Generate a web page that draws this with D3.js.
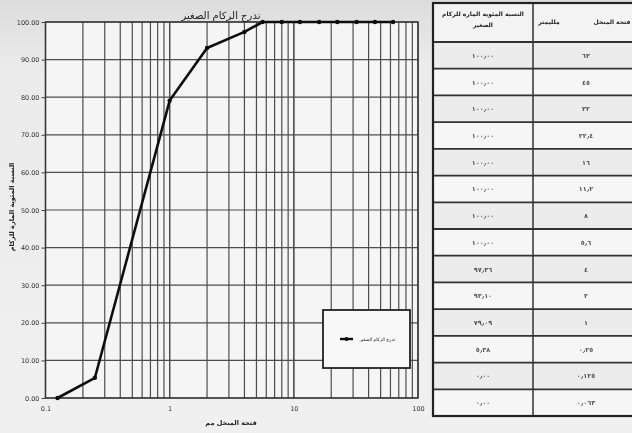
<!DOCTYPE html>
<head>
  <meta charset="utf-8">
  <title>تدرج الركام الصغير</title>
  <script src="https://d3js.org/d3.v7.min.js"></script>
</head>
<body style="margin:0;background:#e8e8e8">
  <script>
    var sieveSizes = [63, 45, 32, 22.4, 16, 11.2, 8, 5.6, 4, 2, 1, 0.25, 0.125, 0.063];
    var passing = [100, 100, 100, 100, 100, 100, 100, 100, 97.36, 93.10, 79.09, 5.38, 0, 0];
    var yTicks = [0, 10, 20, 30, 40, 50, 60, 70, 80, 90, 100];
    var xTicks = [0.1, 1, 10, 100];

    var title = 'تدرج الركام الصغير';
    var seriesName = 'تدرج الركام الصغير';
    var xTitle = 'فتحة المنخل مم';
    var yTitle = 'النسبة المئوية المارة للركام';
    var headPass = ['النسبة المئوية المارة للركام', 'الصغير'];
    var headSize = ['فتحة المنخل', 'ملليمتر'];

    var width = 632, height = 433;
    var font = 'DejaVu Sans';

    function arab(s) {
      return String(s).replace(/[0-9]/g, function(c) { return '٠١٢٣٤٥٦٧٨٩'[+c]; }).replace(/\./g, '٫');
    }

    var svg = d3.select('body').append('svg').attr('width', width).attr('height', height)
      .style('font-family', font).style('display', 'block');

    var defs = svg.append('defs');
    defs.append('filter').attr('id', 'soft')
      .append('feGaussianBlur').attr('stdDeviation', 0.45);
    var grad = defs.append('linearGradient').attr('id', 'bg').attr('x1', 0).attr('y1', 0).attr('x2', 0).attr('y2', 1);
    grad.append('stop').attr('offset', 0).attr('stop-color', '#dcdcdc');
    grad.append('stop').attr('offset', 0.15).attr('stop-color', '#ebebeb');
    grad.append('stop').attr('offset', 1).attr('stop-color', '#f0f0f0');

    var root = svg.append('g').attr('filter', 'url(#soft)');
    root.append('rect').attr('width', width).attr('height', height).attr('fill', 'url(#bg)');

    var pLeft = 45.5, pRight = 418, pTop = 22, pBottom = 398;

    var x = d3.scaleLog().domain([0.1, 100]).range([pLeft, pRight]);
    var y = d3.scaleLinear().domain([0, 100]).range([pBottom, pTop]);

    root.append('rect').attr('x', pLeft).attr('y', pTop).attr('width', pRight - pLeft).attr('height', pBottom - pTop)
      .attr('fill', '#f5f5f5');

    // grid
    var minor = [];
    [0.1, 1, 10].forEach(function(d) {
      for (var k = 1; k <= 10; k++) minor.push(d * k);
    });
    root.append('g').selectAll('line').data(minor).enter().append('line')
      .attr('x1', function(d) { return x(d); }).attr('x2', function(d) { return x(d); })
      .attr('y1', pTop).attr('y2', pBottom)
      .attr('stroke', '#4d4d4d').attr('stroke-width', 1.2);
    root.append('g').selectAll('line').data(yTicks).enter().append('line')
      .attr('x1', pLeft).attr('x2', pRight)
      .attr('y1', function(d) { return y(d); }).attr('y2', function(d) { return y(d); })
      .attr('stroke', '#4d4d4d').attr('stroke-width', 1.2);

    root.append('rect').attr('x', pLeft).attr('y', pTop).attr('width', pRight - pLeft).attr('height', pBottom - pTop)
      .attr('fill', 'none').attr('stroke', '#333').attr('stroke-width', 1.4);

    // axes
    var axisY = d3.axisLeft(y).tickValues(yTicks).tickFormat(d3.format('.2f')).tickSize(4).tickPadding(2);
    var gy = root.append('g').attr('transform', 'translate(' + pLeft + ',0)').call(axisY);
    var axisX = d3.axisBottom(x).tickValues(xTicks).tickFormat(function(d) { return d; }).tickSize(0).tickPadding(8);
    var gx = root.append('g').attr('transform', 'translate(0,' + pBottom + ')').call(axisX);
    [gx, gy].forEach(function(g) {
      g.select('.domain').remove();
      g.selectAll('line').attr('stroke', '#444');
      g.selectAll('text').attr('font-family', font).attr('font-size', 6.5).attr('fill', '#333');
    });

    // series
    var pts = sieveSizes.map(function(d, i) { return { s: d, p: passing[i] }; })
      .filter(function(d) { return d.s >= 0.1; })
      .sort(function(a, b) { return a.s - b.s; });

    var line = d3.line().x(function(d) { return x(d.s); }).y(function(d) { return y(d.p); });
    root.append('path').datum(pts).attr('d', line)
      .attr('fill', 'none').attr('stroke', '#111').attr('stroke-width', 2.6).attr('stroke-linejoin', 'round');
    root.append('g').selectAll('circle').data(pts).enter().append('circle')
      .attr('cx', function(d) { return x(d.s); }).attr('cy', function(d) { return y(d.p); })
      .attr('r', 2.2).attr('fill', '#111');

    // titles
    root.append('text').attr('x', 221).attr('y', 19).attr('text-anchor', 'middle')
      .attr('font-size', 10).attr('fill', '#222').text(title);
    root.append('text').attr('x', 231).attr('y', 425).attr('text-anchor', 'middle')
      .attr('font-size', 6.5).attr('font-weight', 'bold').attr('fill', '#222').text(xTitle);
    root.append('text').attr('transform', 'translate(14,207) rotate(-90)').attr('text-anchor', 'middle')
      .attr('font-size', 6.5).attr('font-weight', 'bold').attr('fill', '#222').text(yTitle);

    // legend
    var lg = root.append('g').attr('transform', 'translate(323,310)');
    lg.append('rect').attr('width', 87).attr('height', 58).attr('fill', '#f8f8f8')
      .attr('stroke', '#222').attr('stroke-width', 1.8);
    lg.append('line').attr('x1', 17).attr('x2', 30).attr('y1', 29).attr('y2', 29)
      .attr('stroke', '#111').attr('stroke-width', 2.4);
    lg.append('circle').attr('cx', 23.5).attr('cy', 29).attr('r', 2).attr('fill', '#111');
    lg.append('text').attr('x', 72).attr('y', 31).attr('text-anchor', 'end')
      .attr('font-size', 4.5).attr('fill', '#222').text(seriesName);

    // table
    var tLeft = 433, tMid = 533, tRight = 640, tTop = 3, headBottom = 42, tBottom = 416;
    var rows = d3.scaleBand().domain(d3.range(sieveSizes.length)).range([headBottom, tBottom]);
    var tg = root.append('g');
    tg.selectAll('rect.row').data(sieveSizes).enter().append('rect').attr('class', 'row')
      .attr('x', tLeft).attr('width', tRight - tLeft)
      .attr('y', function(d, i) { return rows(i); }).attr('height', rows.bandwidth())
      .attr('fill', function(d, i) { return i % 2 ? '#f6f6f6' : '#ececec'; });
    tg.append('rect').attr('x', tLeft).attr('y', tTop).attr('width', tRight - tLeft).attr('height', headBottom - tTop)
      .attr('fill', '#f3f3f3');
    tg.selectAll('line.h').data(d3.range(sieveSizes.length)).enter().append('line')
      .attr('x1', tLeft).attr('x2', tRight)
      .attr('y1', function(i) { return rows(i); }).attr('y2', function(i) { return rows(i); })
      .attr('stroke', '#333').attr('stroke-width', 1.8);
    tg.append('line').attr('x1', tMid).attr('x2', tMid).attr('y1', tTop).attr('y2', tBottom)
      .attr('stroke', '#333').attr('stroke-width', 1.5);
    tg.append('rect').attr('x', tLeft).attr('y', tTop).attr('width', tRight - tLeft).attr('height', tBottom - tTop)
      .attr('fill', 'none').attr('stroke', '#222').attr('stroke-width', 2.2);

    tg.selectAll('text.hp').data(headPass).enter().append('text')
      .attr('x', 483).attr('y', function(d, i) { return 16 + i * 11; }).attr('text-anchor', 'middle')
      .attr('font-size', 6).attr('font-weight', 'bold').attr('fill', '#222').text(function(d) { return d; });
    tg.append('text').attr('x', 612).attr('y', 24).attr('text-anchor', 'middle')
      .attr('font-size', 6).attr('font-weight', 'bold').attr('fill', '#222').text(headSize[0]);
    tg.append('text').attr('x', 549).attr('y', 24).attr('text-anchor', 'middle')
      .attr('font-size', 6).attr('font-weight', 'bold').attr('fill', '#222').text(headSize[1]);

    tg.selectAll('text.p').data(passing).enter().append('text')
      .attr('x', 483).attr('y', function(d, i) { return rows(i) + rows.bandwidth() / 2 + 2.5; })
      .attr('text-anchor', 'middle').attr('font-size', 6.5).attr('font-weight', 'bold').attr('fill', '#555')
      .text(function(d) { return arab(d3.format('.2f')(d)); });
    tg.selectAll('text.s').data(sieveSizes).enter().append('text')
      .attr('x', 586).attr('y', function(d, i) { return rows(i) + rows.bandwidth() / 2 + 2.5; })
      .attr('text-anchor', 'middle').attr('font-size', 6.5).attr('font-weight', 'bold').attr('fill', '#555')
      .text(function(d) { return arab(d); });
  </script>
</body>
